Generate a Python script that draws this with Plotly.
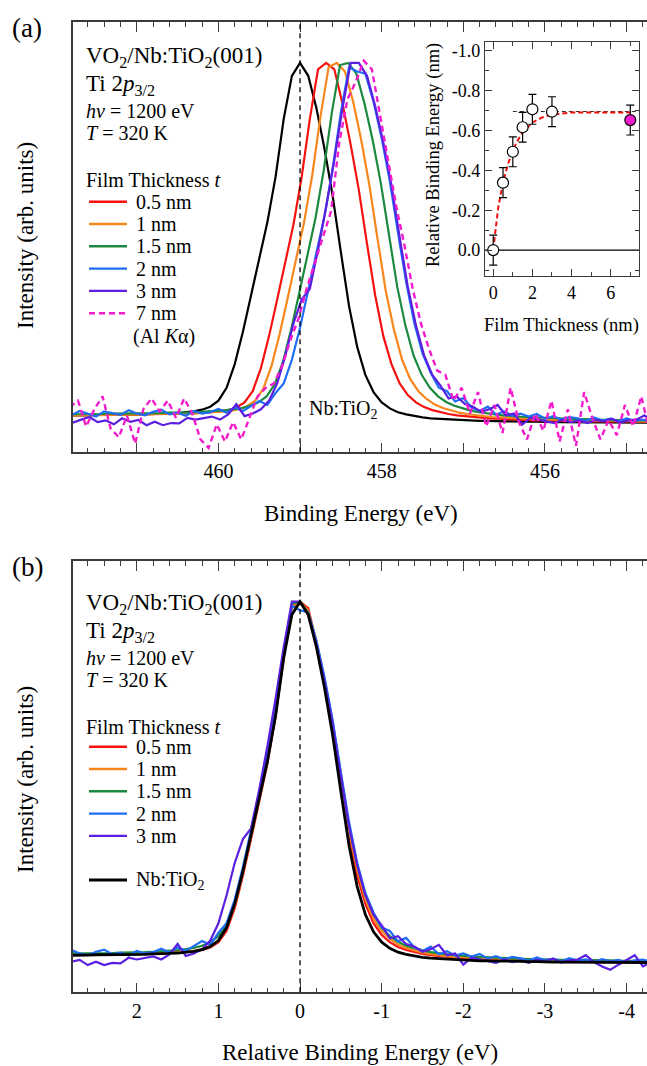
import plotly.graph_objects as go

# ---------------------------------------------------------------- data
# relative binding-energy grid of the Ti 2p3/2 spectra (eV, + = higher BE)
REL_E = [3.6, 3.5, 3.4, 3.3, 3.2, 3.1, 3.0, 2.9, 2.8, 2.7,
         2.6, 2.5, 2.4, 2.3, 2.2, 2.1, 2.0, 1.9, 1.8, 1.7,
         1.6, 1.5, 1.4, 1.3, 1.2, 1.1, 1.0, 0.9, 0.8, 0.7,
         0.6, 0.5, 0.4, 0.3, 0.2, 0.1, 0.0, -0.1, -0.2, -0.3,
         -0.4, -0.5, -0.6, -0.7, -0.8, -0.9, -1.0, -1.1, -1.2, -1.3,
         -1.4, -1.5, -1.6, -1.7, -1.8, -1.9, -2.0, -2.1, -2.2, -2.3,
         -2.4, -2.5, -2.6, -2.7, -2.8, -2.9, -3.0, -3.1, -3.2, -3.3,
         -3.4, -3.5, -3.6, -3.7, -3.8, -3.9, -4.0, -4.1, -4.2, -4.3]

REF_PEAK_BE = 459.0  # Nb:TiO2 substrate peak (eV)

NB_TIO2 = [8.5, 8.5, 8.5, 8.5, 8.5, 8.5, 8.6, 8.6, 8.6, 8.6,
           8.6, 8.7, 8.7, 8.7, 8.7, 8.8, 8.8, 8.8, 8.9, 8.9,
           9.0, 9.1, 9.3, 9.5, 9.9, 10.6, 12.0, 15.0, 20.5, 28.0,
           36.5, 45.0, 53.5, 64.0, 77.5, 87.5, 90.5, 87.5, 80.0, 70.5,
           59.5, 46.5, 34.0, 24.5, 18.0, 14.0, 11.6, 10.2, 9.3, 8.8,
           8.4, 8.1, 7.9, 7.8, 7.6, 7.5, 7.4, 7.4, 7.3, 7.3,
           7.2, 7.2, 7.2, 7.1, 7.1, 7.1, 7.0, 7.0, 7.0, 7.0,
           7.0, 6.9, 6.9, 6.9, 6.9, 6.9, 6.9, 6.9, 6.9, 6.9]

T_05NM = [8.6, 8.6, 8.6, 8.6, 8.6, 8.7, 8.7, 8.7, 8.7, 8.7,
          8.7, 8.8, 8.8, 8.8, 8.8, 8.9, 8.9, 8.9, 9.0, 9.0,
          9.1, 9.2, 9.3, 9.5, 9.8, 10.4, 11.6, 14.2, 19.5, 27.0,
          35.5, 44.0, 53.0, 64.0, 77.5, 89.0, 90.5, 89.0, 81.0, 71.5,
          61.0, 48.5, 36.5, 27.0, 20.5, 16.0, 13.3, 11.6, 10.5, 9.8,
          9.3, 8.9, 8.6, 8.4, 8.2, 8.0, 7.9, 7.8, 7.7, 7.6,
          7.5, 7.5, 7.4, 7.4, 7.3, 7.3, 7.3, 7.2, 7.2, 7.2,
          7.2, 7.1, 7.1, 7.1, 7.1, 7.1, 7.0, 7.0, 7.0, 7.0]

T_1NM = [8.5, 8.5, 8.6, 8.6, 8.6, 8.6, 8.6, 8.7, 8.7, 8.7,
         8.7, 8.8, 8.8, 8.8, 8.9, 8.9, 8.9, 9.0, 9.0, 9.1,
         9.2, 9.3, 9.4, 9.6, 10.0, 10.7, 12.0, 14.8, 20.0, 27.5,
         36.0, 44.5, 53.5, 64.5, 78.0, 89.5, 90.5, 88.5, 81.5, 72.5,
         62.0, 49.5, 37.5, 28.5, 21.5, 17.0, 14.2, 12.4, 11.1, 10.3,
         9.7, 9.2, 8.9, 8.6, 8.4, 8.2, 8.1, 8.0, 7.9, 7.8,
         7.7, 7.7, 7.6, 7.6, 7.5, 7.5, 7.4, 7.4, 7.4, 7.3,
         7.3, 7.3, 7.3, 7.2, 7.2, 7.2, 7.2, 7.1, 7.1, 7.1]

T_15NM = [8.8, 8.8, 8.8, 8.9, 8.9, 8.9, 8.9, 9.0, 9.0, 9.0,
          9.0, 9.1, 9.1, 9.1, 9.2, 9.2, 9.3, 9.3, 9.4, 9.5,
          9.6, 9.8, 10.0, 10.3, 10.8, 11.6, 13.0, 15.8, 21.0, 28.5,
          37.0, 45.5, 54.5, 65.5, 79.0, 90.0, 90.5, 88.0, 81.0, 72.5,
          62.5, 50.5, 38.5, 29.5, 22.5, 18.0, 15.0, 13.0, 11.7, 10.8,
          10.2, 9.7, 9.3, 9.0, 8.8, 8.6, 8.4, 8.3, 8.2, 8.1,
          8.0, 7.9, 7.8, 7.8, 7.7, 7.7, 7.6, 7.6, 7.5, 7.5,
          7.5, 7.4, 7.4, 7.4, 7.4, 7.3, 7.3, 7.3, 7.3, 7.3]

T_2NM = [9.4, 8.6, 9.6, 8.9, 8.3, 9.5, 9.1, 8.7, 9.8, 9.0,
         8.6, 9.4, 9.9, 8.8, 9.2, 8.5, 9.6, 9.0, 9.3, 10.1,
         9.2, 10.4, 9.6, 10.8, 11.9, 11.0, 13.8, 16.0, 21.5, 29.0,
         37.5, 46.0, 55.0, 66.0, 79.0, 89.5, 88.5, 88.0, 81.5, 73.0,
         63.0, 51.0, 39.5, 30.0, 23.0, 18.5, 15.0, 14.2, 11.8, 12.6,
         10.4, 9.6, 10.6, 8.8, 9.5, 8.5, 9.0, 8.3, 8.9, 7.8,
         8.4, 7.6, 8.2, 7.9, 7.3, 8.1, 7.4, 7.8, 7.2, 7.9,
         7.3, 7.6, 7.0, 7.7, 7.2, 7.5, 6.9, 7.4, 7.6, 7.1]

T_3NM = [7.8, 6.9, 7.6, 8.2, 7.0, 7.4, 6.5, 7.9, 7.1, 7.5,
         6.3, 7.1, 6.3, 6.8, 6.7, 8.0, 7.6, 8.0, 8.3, 7.6,
         8.8, 11.2, 8.4, 9.0, 10.0, 12.0, 16.0, 22.5, 30.0, 35.5,
         38.0, 47.0, 57.0, 68.0, 80.0, 90.5, 90.5, 87.5, 80.5, 72.0,
         62.0, 50.0, 38.5, 29.5, 22.5, 18.0, 15.5, 12.5, 13.0, 11.2,
         10.6, 9.4, 10.0, 11.0, 8.6, 9.0, 6.4, 8.0, 7.6, 7.3,
         6.8, 7.6, 7.0, 7.4, 6.8, 7.5, 7.2, 7.8, 6.9, 7.4,
         7.6, 8.6, 7.0, 6.0, 5.2, 6.4, 7.6, 8.6, 6.0, 7.0]

T_7NM_ALKA = [10.5, 12.0, 6.0, 10.0, 13.0, 5.5, 3.5, 8.5, 2.0, 10.0,
              12.5, 9.5, 12.0, 8.0, 12.5, 9.0, 3.0, 1.0, 6.5, 2.5,
              7.0, 3.0, 8.0, 13.0, 15.0, 16.0, 20.0, 26.0, 31.0, 38.0,
              44.0, 50.0, 56.0, 72.0, 82.0, 86.0, 91.0, 89.0, 78.0, 68.0,
              57.0, 48.0, 38.0, 30.0, 24.0, 19.0, 18.0, 12.0, 15.0, 9.0,
              14.0, 6.0, 11.0, 4.5, 15.0, 7.0, 3.0, 9.0, 5.0, 12.0,
              2.5, 10.0, 1.5, 14.0, 8.0, 3.0, 7.5, 4.0, 11.0, 6.0,
              13.0, 5.0, 9.0, 2.5, 7.0, 12.0, 4.0, 9.0, 6.0, 10.0]

# measured peak shift of each film spectrum w.r.t. Nb:TiO2 (eV)
FILM_LABELS = ["0.5 nm", "1 nm", "1.5 nm", "2 nm", "3 nm"]
FILM_SPECTRA = [T_05NM, T_1NM, T_15NM, T_2NM, T_3NM]
FILM_SHIFTS = [-0.32, -0.45, -0.59, -0.70, -0.72]
SHIFT_7NM = -0.78
FILM_COLORS = ["#f5120f", "#f7871c", "#1b8a3e", "#1f6cf5", "#5a1fe0"]
MAGENTA = "#f21ccd"

# inset: relative binding energy vs film thickness
INSET_T = [0.0, 0.5, 1.0, 1.5, 2.0, 3.0]
INSET_E = [0.0, -0.338, -0.493, -0.616, -0.706, -0.694]
INSET_ERR = [0.075, 0.075, 0.075, 0.075, 0.075, 0.075]
INSET_T_ALKA = [7.0]
INSET_E_ALKA = [-0.652]
INSET_ERR_ALKA = [0.075]
INSET_XERR_ALKA = [0.2]
FIT_T = [0.0, 0.25, 0.5, 0.75, 1.0, 1.25, 1.5, 2.0, 2.5, 3.0, 4.0, 5.0, 7.0]
FIT_E = [0.0, -0.21, -0.34, -0.43, -0.50, -0.55, -0.59, -0.64, -0.665, -0.68, -0.69, -0.69, -0.69]
SAT_LEVEL = -0.695
SAT_START_T = 1.0

# ---------------------------------------------------------------- layout helpers
W, H = 647, 1066
SERIF = "Liberation Serif"
AX = "#3c3c3c"


def fx(px):
    return px / W


def fy(py):
    return 1 - py / H


fig = go.Figure()

# ---- panel (a)
fig.add_trace(go.Scatter(x=[REF_PEAK_BE + r for r in REL_E], y=NB_TIO2, mode="lines",
                         line=dict(color="black", width=2.2), xaxis="x", yaxis="y",
                         showlegend=False))
for spec, sh, col in zip(FILM_SPECTRA, FILM_SHIFTS, FILM_COLORS):
    fig.add_trace(go.Scatter(x=[REF_PEAK_BE + sh + r for r in REL_E], y=spec, mode="lines",
                             line=dict(color=col, width=2.2), xaxis="x", yaxis="y",
                             showlegend=False))
fig.add_trace(go.Scatter(x=[REF_PEAK_BE + SHIFT_7NM + r for r in REL_E], y=T_7NM_ALKA,
                         mode="lines", line=dict(color=MAGENTA, width=2.4, dash="6px,4px"),
                         xaxis="x", yaxis="y", showlegend=False))

# ---- panel (b)
for spec, col in zip(FILM_SPECTRA, FILM_COLORS):
    fig.add_trace(go.Scatter(x=REL_E, y=spec, mode="lines", line=dict(color=col, width=2.2),
                             xaxis="x2", yaxis="y2", showlegend=False))
fig.add_trace(go.Scatter(x=REL_E, y=NB_TIO2, mode="lines", line=dict(color="black", width=2.8),
                         xaxis="x2", yaxis="y2", showlegend=False))

# ---- inset
fig.add_trace(go.Scatter(x=[-0.42, 7.46], y=[0, 0], mode="lines",
                         line=dict(color="black", width=1.2), xaxis="x3", yaxis="y3",
                         showlegend=False))
fig.add_trace(go.Scatter(x=[SAT_START_T, 7.46], y=[SAT_LEVEL, SAT_LEVEL], mode="lines",
                         line=dict(color="#333333", width=1.2, dash="4px,3px"),
                         xaxis="x3", yaxis="y3", showlegend=False))
fig.add_trace(go.Scatter(x=FIT_T, y=FIT_E, mode="lines",
                         line=dict(color="#f01010", width=2, dash="5px,3px"),
                         xaxis="x3", yaxis="y3", showlegend=False))
fig.add_trace(go.Scatter(x=INSET_T, y=INSET_E, mode="markers",
                         marker=dict(symbol="circle", size=11, color="white",
                                     line=dict(color="black", width=1.2)),
                         error_y=dict(type="data", array=INSET_ERR, color="black",
                                      thickness=1.2, width=4),
                         xaxis="x3", yaxis="y3", showlegend=False))
fig.add_trace(go.Scatter(x=INSET_T_ALKA, y=INSET_E_ALKA, mode="markers",
                         marker=dict(symbol="circle", size=11, color=MAGENTA,
                                     line=dict(color="black", width=1.2)),
                         error_y=dict(type="data", array=INSET_ERR_ALKA, color="black",
                                      thickness=1.2, width=4),
                         error_x=dict(type="data", array=INSET_XERR_ALKA, color="black",
                                      thickness=1.2, width=4),
                         xaxis="x3", yaxis="y3", showlegend=False))

tickfont = dict(family=SERIF, size=20, color="black")
main_x_common = dict(showline=True, linecolor=AX, linewidth=1.6, mirror="ticks",
                     ticks="inside", ticklen=10, tickwidth=1.3, tickcolor=AX,
                     showgrid=False, zeroline=False, tickfont=tickfont,
                     minor=dict(ticks="inside", ticklen=5, tickwidth=1.2, tickcolor=AX,
                                dtick=0.2, tick0=0, showgrid=False))
main_y_common = dict(showline=True, linecolor=AX, linewidth=1.6, mirror=False, ticks="",
                     showticklabels=False, showgrid=False, zeroline=False, range=[0, 100])

fig.update_layout(
    width=W, height=H, margin=dict(l=0, r=0, t=0, b=0),
    paper_bgcolor="white", plot_bgcolor="white", showlegend=False,
    font=dict(family=SERIF, color="black"),
    xaxis=dict(domain=[fx(72.7), 1.0], range=[461.785, 454.75],
               tickmode="array", tickvals=[461, 460, 459, 458, 457, 456, 455],
               ticktext=["", "460", "", "458", "", "456", ""], anchor="y",
               **main_x_common),
    yaxis=dict(domain=[fy(452.3), fy(22)], anchor="x", **main_y_common),
    xaxis2=dict(domain=[fx(72.7), 1.0], range=[2.785, -4.25],
                tickmode="array", tickvals=[2, 1, 0, -1, -2, -3, -4],
                ticktext=["2", "1", "0", "-1", "-2", "-3", "-4"], anchor="y2",
                **main_x_common),
    yaxis2=dict(domain=[fy(992.3), fy(560.7)], anchor="x2", **main_y_common),
    xaxis3=dict(domain=[fx(485), fx(639.3)], range=[-0.42, 7.46], anchor="y3",
                tickmode="array", tickvals=[0, 2, 4, 6], ticktext=["0", "2", "4", "6"],
                showline=True, linecolor=AX, linewidth=1.4, mirror="ticks",
                ticks="inside", ticklen=7, tickwidth=1.2, tickcolor=AX,
                showgrid=False, zeroline=False,
                tickfont=dict(family=SERIF, size=18, color="black"),
                minor=dict(ticks="inside", ticklen=4, tickwidth=1.1, tickcolor=AX,
                           dtick=1, tick0=0, showgrid=False)),
    yaxis3=dict(domain=[fy(276), fy(41.7)], range=[0.13, -1.045], anchor="x3",
                tickmode="array", tickvals=[0, -0.2, -0.4, -0.6, -0.8, -1.0],
                ticktext=["0.0", "-0.2", "-0.4", "-0.6", "-0.8", "-1.0"],
                showline=True, linecolor=AX, linewidth=1.4, mirror="ticks",
                ticks="inside", ticklen=7, tickwidth=1.2, tickcolor=AX,
                showgrid=False, zeroline=False,
                tickfont=dict(family=SERIF, size=18, color="black"),
                minor=dict(ticks="inside", ticklen=4, tickwidth=1.1, tickcolor=AX,
                           dtick=0.1, tick0=0, showgrid=False)),
)

# dashed reference lines at the Nb:TiO2 peak
fig.add_shape(type="line", xref="x", yref="y domain", x0=REF_PEAK_BE, x1=REF_PEAK_BE,
              y0=0, y1=1, line=dict(color="black", width=1.3, dash="5px,4px"))
fig.add_shape(type="line", xref="x2", yref="y2 domain", x0=0, x1=0, y0=0, y1=1,
              line=dict(color="black", width=1.3, dash="5px,4px"))

annotations = []


def text(s, xpx, ypx, size=20, xanchor="left", angle=0):
    annotations.append(dict(text=s, x=fx(xpx), y=fy(ypx), xref="paper", yref="paper",
                            xanchor=xanchor, yanchor="middle", showarrow=False,
                            textangle=angle,
                            font=dict(family=SERIF, size=size, color="black")))


# panel labels and axis titles
text("(a)", 27, 28, size=27, xanchor="center")
text("(b)", 27, 567, size=27, xanchor="center")
text("Binding Energy (eV)", 361, 513, size=23, xanchor="center")
text("Relative Binding Energy (eV)", 360, 1052, size=23, xanchor="center")
text("Intensity (arb. units)", 25, 236, size=23, xanchor="center", angle=-90)
text("Intensity (arb. units)", 25, 780, size=23, xanchor="center", angle=-90)
text("Relative Binding Energy (nm)", 433, 155, size=18.5, xanchor="center", angle=-90)
text("Film Thickness (nm)", 561, 325, size=18.5, xanchor="center")
text("Nb:TiO<sub>2</sub>", 307, 410, size=20)

# sample header blocks
for dy in (0, 547):
    text("VO<sub>2</sub>/Nb:TiO<sub>2</sub>(001)", 84, 57 + dy, size=23)
    text("Ti 2<i>p</i><sub>3/2</sub>", 84, 85 + dy, size=23)
    text("<i>hv</i> = 1200 eV", 84, 111 + dy, size=20)
    text("<i>T</i> = 320 K", 84, 133 + dy, size=20)
    text("Film Thickness <i>t</i>", 84, 180 + dy, size=20)

shapes = []


def legend_row(label, color, ypx, dash=None, width=2.4):
    shapes.append(dict(type="line", xref="paper", yref="paper", x0=fx(89), x1=fx(127),
                       y0=fy(ypx), y1=fy(ypx),
                       line=dict(color=color, width=width, dash=dash)))
    text(label, 134, ypx, size=20)


rows_a = [201.7, 224.0, 246.3, 268.6, 290.9]
rows_b = [746.7, 769.0, 791.3, 813.6, 835.9]
for lab, col, ya, yb in zip(FILM_LABELS, FILM_COLORS, rows_a, rows_b):
    legend_row(lab, col, ya)
    legend_row(lab, col, yb)
legend_row("7 nm", MAGENTA, 313.2, dash="6px,4px")
text("(Al <i>K</i>α)", 131, 336.5, size=20)
legend_row("Nb:TiO<sub>2</sub>", "black", 880, width=2.8)

for s in shapes:
    fig.add_shape(**s)
fig.update_layout(annotations=annotations)

fig.write_html("out.html")
